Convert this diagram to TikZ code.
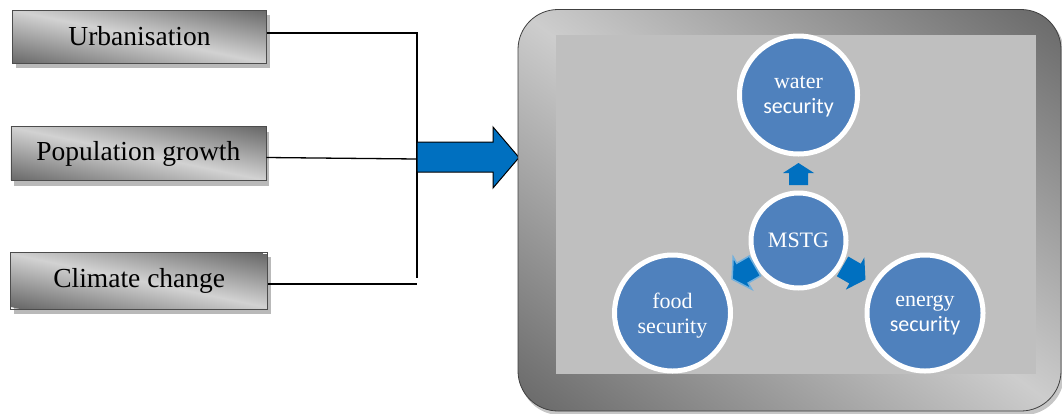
\documentclass[tikz,border=0pt]{standalone}
\usepackage{fontspec}
\setmainfont{Liberation Serif}
\newfontfamily\calib{Carlito}
\usetikzlibrary{shadows}
\definecolor{circblue}{HTML}{4F81BD}
\definecolor{arrblue}{HTML}{0070C0}
\definecolor{darkg}{HTML}{686868}
\definecolor{lightg}{HTML}{D2D2D2}
\definecolor{paneldark}{HTML}{666666}
\definecolor{panellight}{HTML}{CDCDCD}
\definecolor{innerg}{HTML}{BFBFBF}
\pgfdeclareverticalshading{boxsh}{320bp}{color(0bp)=(darkg); color(52bp)=(lightg); color(104bp)=(darkg)}
\pgfdeclareverticalshading{panelsh}{820bp}{color(0bp)=(paneldark); color(325bp)=(panellight); color(650bp)=(paneldark)}
\begin{document}
\begin{tikzpicture}[x=1pt,y=-1pt,
  factor/.style={draw=gray!60!black, line width=0.8pt,
    path picture={\node[inner sep=0pt, outer sep=0pt, rotate=-11.8]
      at (path picture bounding box.center) {\pgfuseshading{boxsh}};},
    drop shadow={shadow xshift=3pt, shadow yshift=-5pt, fill=gray!55, opacity=1},
    inner sep=0pt, font=\fontsize{27.5}{33}\selectfont},
  conn/.style={draw=black, line width=1.3pt},
  bigarrow/.style={draw=black, line width=1pt, fill=arrblue, line join=miter},
  bubble/.style={circle, fill=circblue, draw=white, line width=5pt, text=white,
    inner sep=0pt, align=center, text depth=0pt, font=\fontsize{22}{25}\selectfont},
  blockarr/.pic={\path[pic actions] (0,-11) -- (15.5,-1) -- (9.5,-1) -- (9.5,11)
    -- (-9.5,11) -- (-9.5,-1) -- (-15.5,-1) -- cycle;}
]
\useasboundingbox (0,0) rectangle (1062,413);

% left factor boxes
\node[factor, minimum width=254, minimum height=53] (urb) at (139.5,36.5) {Urbanisation};
\node[factor, minimum width=255, minimum height=54] (pop) at (138.4,153.7) {Population growth};
\node[factor, minimum width=257, minimum height=57] (cli) at (139.2,280.5) {Climate change};

% junction
\coordinate (jU) at (417,33);
\coordinate (jP) at (417,159);
\coordinate (jC) at (417,284);
\coordinate (jE) at (417,278);
\draw[conn] (urb.east |- jU) -- (jU) -- (jE);
\draw[conn] (pop.east |- 0,157.5) -- (jP);
\draw[conn] (cli.east |- jC) -- (jC);

% big arrow
\draw[bigarrow] (jP |- 0,142) -- (493,142) -- (493,127) -- (519,157.5) -- (493,188)
  -- (493,172) -- (jP |- 0,172) -- cycle;

% outer panel
\fill[gray!45, rounded corners=40] (520,13) rectangle (1064,415);
\draw[draw=gray!50!black, line width=0.8pt, rounded corners=40,
  path picture={\node[inner sep=0pt, outer sep=0pt, rotate=-36.4]
      at (path picture bounding box.center) {\pgfuseshading{panelsh}};}]
  (518,9.5) rectangle (1061,411);
\fill[innerg] (556,35) rectangle (1036,374);

% circles
\node[bubble, minimum size=118] (water) at (798.5,95) {water\\{\calib security}};
\node[bubble, minimum size=95] (mstg) at (798.5,240.5) {MSTG};
\node[bubble, minimum size=116] (food) at (672.5,313) {food\\security};
\node[bubble, minimum size=116] (energy) at (925,313) {energy\\{\calib security}};

% small arrows
\pic[fill=arrblue] at (798.5,174) {blockarr};
\pic[fill=arrblue, draw=arrblue!55!white, line width=1.5pt, rotate=120, scale=1.2] at (743.5,272.5) {blockarr};
\pic[fill=arrblue, rotate=-120, scale=1.2] at (854,273) {blockarr};
\end{tikzpicture}
\end{document}
